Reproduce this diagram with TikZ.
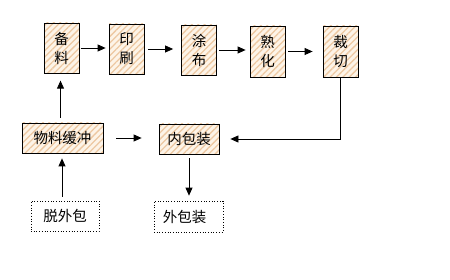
\documentclass[tikz,border=0pt]{standalone}
\usepackage{fontspec}
\newfontfamily\cjk{Noto Sans CJK SC}
\usetikzlibrary{arrows.meta,patterns.meta}
\definecolor{cream}{HTML}{FDF4E8}
\definecolor{stripe}{HTML}{EDC8A2}
\begin{document}
\begin{tikzpicture}[x=1pt,y=-1pt,
  proc/.style={draw=black,line width=0.8pt,inner sep=0pt,
    preaction={fill=cream},
    pattern={Lines[angle=45,distance=4.5pt,line width=1.3pt]},pattern color=stripe,
    font=\cjk\fontsize{14.5}{19}\selectfont,align=center},
  vproc/.style={proc,minimum width=35pt,minimum height=50pt},
  hproc/.style={proc,minimum height=30pt},
  ext/.style={draw=black,dotted,line width=0.7pt,inner sep=0pt,minimum height=30pt,
    font=\cjk\fontsize{14.5}{16}\selectfont},
  arr/.style={line width=0.8pt,-{Triangle[length=8pt,width=7pt]}}]
\useasboundingbox (0,0) rectangle (450,280);
\fill[white] (0,0) rectangle (450,280);
\node[vproc] (bl) at (61.5,48) {备\\料};
\node[vproc] (ys) at (126.5,49) {印\\刷};
\node[vproc] (tb) at (199,50) {涂\\布};
\node[vproc,minimum height=51pt] (sh) at (267.5,51.5) {熟\\化};
\node[vproc,minimum height=51pt] (cq) at (340.5,51.5) {裁\\切};
\node[hproc,minimum width=81pt] (wl) at (62.5,138) {物料缓冲};
\node[hproc,minimum width=60pt] (nb) at (189,139) {内包装};
\node[ext,minimum width=68pt] (tw) at (65,216) {脱外包};
\node[ext,minimum width=69pt,minimum height=31pt] (wb) at (188.5,216.5) {外包装\hspace*{8pt}};
\draw[arr,shorten <=1pt,shorten >=3pt] (bl.east) -- (bl.east -| ys.west);
\draw[arr,shorten <=4pt,shorten >=8pt] (ys.east) -- (ys.east -| tb.west);
\draw[arr,shorten <=2pt,shorten >=4pt] (tb.east) -- (tb.east -| sh.west);
\draw[arr,shorten <=3pt,shorten >=10pt] (sh.east) -- (sh.east -| cq.west);
\draw[arr,shorten <=5pt,shorten >=7pt] ([xshift=-2pt]wl.north) -- ([xshift=-2pt]wl.north |- bl.south);
\draw[arr,shorten <=13pt,shorten >=17pt] (wl.east) -- (wl.east -| nb.west);
\draw[arr,shorten >=11pt] (cq.south) |- (nb.east);
\draw[arr,shorten <=4pt,shorten >=5pt] ([xshift=-3pt]tw.north) -- ([xshift=-3pt]tw.north |- wl.south);
\draw[arr,shorten <=4pt,shorten >=5pt] (nb.south) -- (nb.south |- wb.north);
\end{tikzpicture}
\end{document}
